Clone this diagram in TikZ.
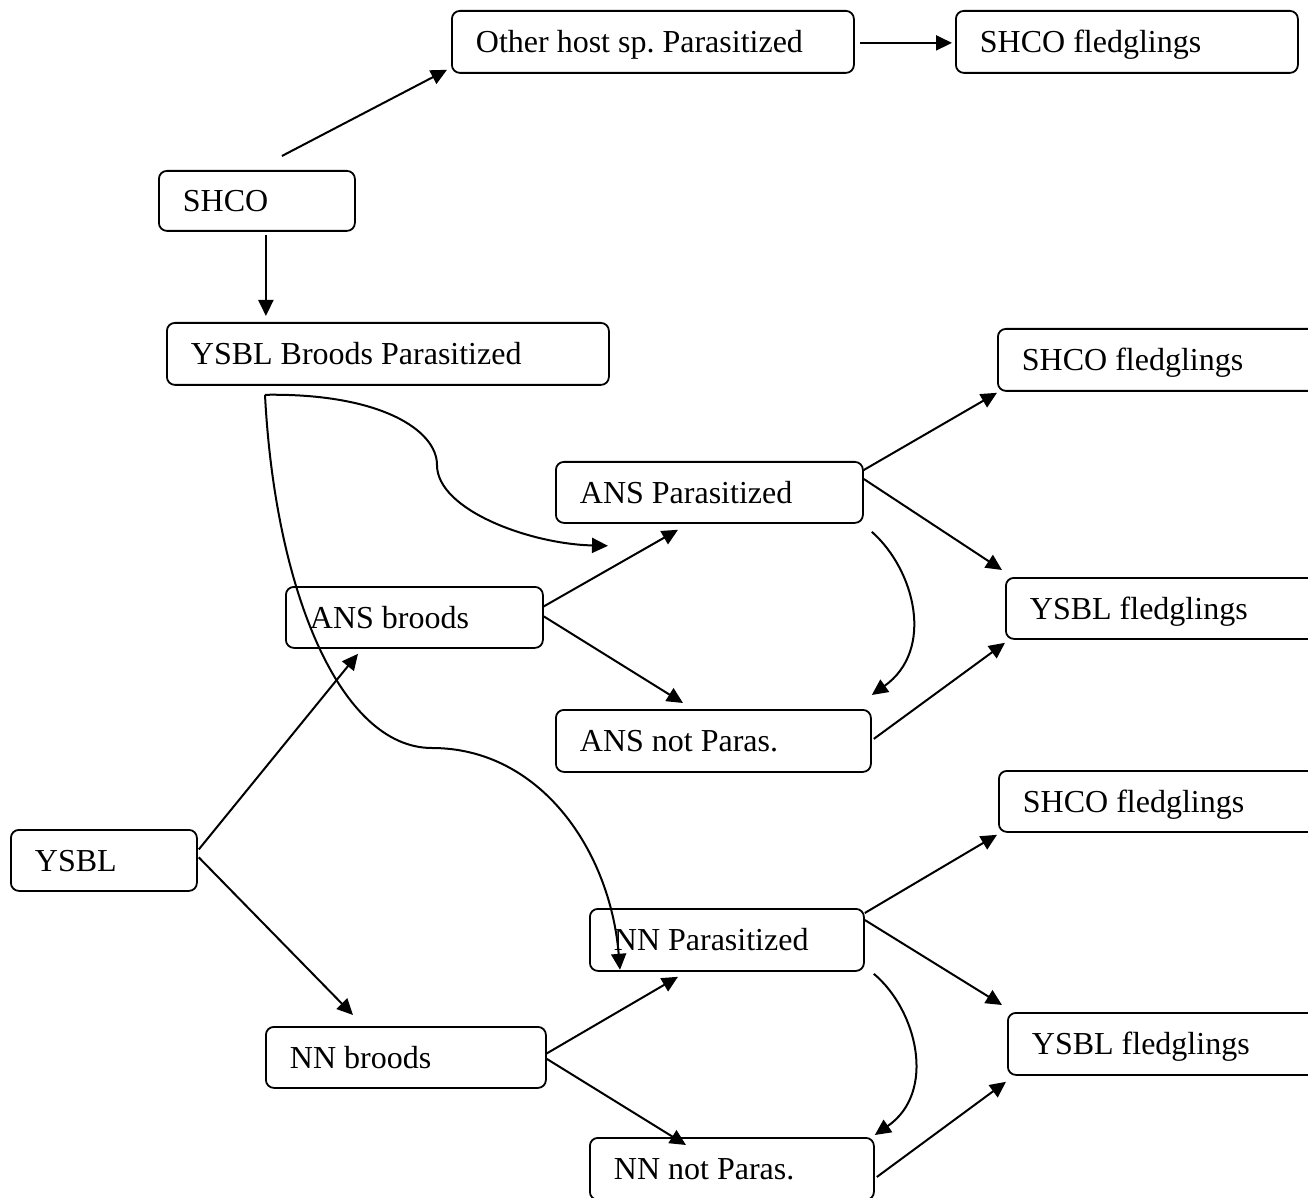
\documentclass[tikz,border=0pt]{standalone}
\usepackage{fontspec}
\setmainfont{Liberation Serif}
\usetikzlibrary{arrows.meta,calc}
\frenchspacing
\newcommand{\bxt}[2]{\makebox[#1][l]{#2}}
\begin{document}
\begin{tikzpicture}[x=0.5pt,y=-0.5pt,
  box/.style={draw, line width=0.9pt, rounded corners=4pt, anchor=north west,
    inner xsep=12pt, inner ysep=0pt, font=\fontsize{16}{19}\selectfont,
    text height=11pt, text depth=0pt},
  arr/.style={line width=1pt, -{Triangle[length=8pt,width=7.5pt]}},
  crv/.style={line width=1pt, -{Triangle[length=8pt,width=7.5pt]}}]
\useasboundingbox (0,0) rectangle (1308,1198);
\clip (0,0) rectangle (1308,1198);
% nodes
\node[box, minimum height=31pt] (oth) at (451,10) {\bxt{177pt}{Other host sp. Parasitized}};
\node[box, minimum height=31pt] (shf1) at (955,10) {\bxt{147pt}{SHCO fledglings}};
\node[box, minimum height=30pt] (shco) at (158,170) {\bxt{74pt}{SHCO}};
\node[box, minimum height=31pt] (ybp) at (166,322) {\bxt{197pt}{YSBL Broods Parasitized}};
\node[box, minimum height=31pt] (shf2) at (997,328) {\bxt{142.5pt}{SHCO fledglings}};
\node[box, minimum height=30.5pt] (ansp) at (555,461) {\bxt{129.5pt}{ANS Parasitized}};
\node[box, minimum height=30.5pt] (ansb) at (285,586) {\bxt{104.5pt}{ANS broods}};
\node[box, minimum height=30.5pt] (ysf1) at (1005,577) {\bxt{138.5pt}{YSBL fledglings}};
\node[box, minimum height=31pt] (ansn) at (555,709) {\bxt{133.5pt}{ANS not Paras.}};
\node[box, minimum height=30.5pt] (shf3) at (998,770) {\bxt{142pt}{SHCO fledglings}};
\node[box, minimum height=30.5pt] (ysbl) at (10,829) {\bxt{69pt}{YSBL}};
\node[box, minimum height=31pt] (nnp) at (589,908) {\bxt{113pt}{NN Parasitized}};
\node[box, minimum height=30.5pt] (nnb) at (265,1026) {\bxt{116pt}{NN broods}};
\node[box, minimum height=31pt] (ysf2) at (1007,1012) {\bxt{137.5pt}{YSBL fledglings}};
\node[box, minimum height=31pt] (nnn) at (589,1137) {\bxt{118pt}{NN not Paras.}};
% straight connectors
\draw[arr] ($(shco.north)+(25,-14)$) -- ($(oth.south west)+(-4,-4)$);
\draw[arr] ($(oth.east)+(5,1)$) -- ($(shf1.west)+(-3,1)$);
\coordinate (s1) at ($(shco.south)+(9,3)$);
\draw[arr, shorten >=3pt] (s1) -- (s1 |- ybp.north);
\draw[arr] ($(ansb.east)+(0,-11)$) -- ($(ansp.south west)+(123,6)$);
\draw[arr] ($(ansb.east)+(0,-1)$) -- ($(ansn.north west)+(128,-6)$);
\draw[arr] ($(ysbl.east)+(1,-11)$) -- ($(ansb.south west)+(73,5)$);
\draw[arr] ($(ysbl.east)+(1,-3)$) -- ($(nnb.north west)+(88,-11)$);
\draw[arr] ($(ansp.north east)+(0,9)$) -- ($(shf2.south west)+(0,1)$);
\draw[arr] ($(ansp.north east)+(0,18)$) -- ($(ysf1.north west)+(-3,-7)$);
\draw[arr] ($(ansn.east)+(2,-2)$) -- ($(ysf1.south west)+(0,3)$);
\draw[arr] ($(nnp.north east)+(0,5)$) -- ($(shf3.south west)+(-1,2)$);
\draw[arr] ($(nnp.north east)+(0,12)$) -- ($(ysf2.north west)+(-5,-7)$);
\draw[arr] ($(nnb.east)+(0,-4)$) -- ($(nnp.south west)+(89,5)$);
\draw[arr] ($(nnb.east)+(0,1.5)$) -- ($(nnn.north west)+(97,8)$);
\draw[arr] ($(nnn.north east)+(2,40)$) -- ($(ysf2.south west)+(-1,6)$);
% curved connectors
\coordinate (cs) at ($(ybp.south west)+(99,9)$);
\coordinate (ca) at ($(ansp.south west)+(53,22)$);
\coordinate (cb) at ($(nnp.south west)+(31,-2)$);
\draw[crv] (cs) .. controls (380,393) and (437,430) .. (437,465)
  .. controls (437,510) and (530,544) .. (ca);
\draw[crv] (cs) .. controls (275,590) and (340,748) .. (432,748)
  .. controls (540,748) and (610,850) .. (cb);
\draw[crv] ($(ansp.south east)+(8,8)$) .. controls (915,570) and (935,650) .. ($(ansn.north east)+(0,-14)$);
\draw[crv] ($(nnp.south east)+(9,2)$) .. controls (917,1010) and (937,1092) .. ($(nnn.north east)+(0,-2)$);
\end{tikzpicture}
\end{document}
